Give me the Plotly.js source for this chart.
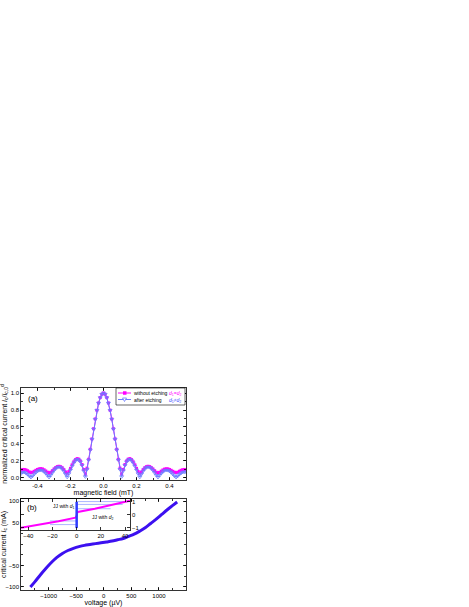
<!DOCTYPE html>
<html><head><meta charset="utf-8">
<script src="https://cdn.plot.ly/plotly-3.0.1.min.js"></script>
<style>body{margin:0;padding:0;background:#fff}</style>
</head><body><div id="chart" style="width:469px;height:607px"></div>
<script>
// ---- panel (a): normalized critical current vs magnetic field ----
const fieldA = [-0.50,-0.49,-0.48,-0.47,-0.46,-0.45,-0.44,-0.43,-0.42,-0.41,-0.40,-0.39,-0.38,-0.37,-0.36,-0.35,-0.34,-0.33,-0.32,-0.31,-0.30,-0.29,-0.28,-0.27,-0.26,-0.25,-0.24,-0.23,-0.22,-0.21,-0.20,-0.19,-0.18,-0.17,-0.16,-0.15,-0.14,-0.13,-0.12,-0.11,-0.10,-0.09,-0.08,-0.07,-0.06,-0.05,-0.04,-0.03,-0.02,-0.01,0.00,0.01,0.02,0.03,0.04,0.05,0.06,0.07,0.08,0.09,0.10,0.11,0.12,0.13,0.14,0.15,0.16,0.17,0.18,0.19,0.20,0.21,0.22,0.23,0.24,0.25,0.26,0.27,0.28,0.29,0.30,0.31,0.32,0.33,0.34,0.35,0.36,0.37,0.38,0.39,0.40,0.41,0.42,0.43,0.44,0.45,0.46,0.47,0.48,0.49,0.50];
const withoutEtching = [0.09,0.10,0.10,0.095,0.085,0.072,0.063,0.068,0.078,0.09,0.10,0.107,0.11,0.106,0.096,0.082,0.068,0.06,0.067,0.085,0.105,0.122,0.134,0.138,0.133,0.12,0.098,0.07,0.055,0.075,0.113,0.155,0.19,0.216,0.228,0.222,0.20,0.158,0.10,0.045,0.115,0.22,0.338,0.46,0.58,0.695,0.798,0.882,0.946,0.985,1.0,0.985,0.946,0.882,0.798,0.695,0.58,0.46,0.338,0.22,0.115,0.045,0.10,0.158,0.20,0.222,0.228,0.216,0.19,0.155,0.113,0.075,0.055,0.07,0.098,0.12,0.133,0.138,0.134,0.122,0.105,0.085,0.067,0.06,0.066,0.08,0.094,0.104,0.108,0.107,0.10,0.09,0.078,0.068,0.063,0.068,0.079,0.09,0.097,0.10,0.10];
const afterEtching = [0.05,0.068,0.067,0.057,0.042,0.023,0.008,0.024,0.046,0.065,0.08,0.09,0.092,0.087,0.074,0.055,0.03,0.008,0.032,0.062,0.089,0.11,0.124,0.129,0.123,0.107,0.08,0.045,0.01,0.05,0.095,0.14,0.178,0.205,0.218,0.213,0.19,0.148,0.085,0.015,0.10,0.21,0.33,0.455,0.575,0.69,0.795,0.88,0.945,0.985,1.0,0.985,0.945,0.88,0.795,0.69,0.575,0.455,0.33,0.21,0.10,0.015,0.085,0.148,0.19,0.213,0.218,0.205,0.178,0.14,0.095,0.05,0.01,0.045,0.08,0.107,0.123,0.129,0.124,0.11,0.089,0.062,0.032,0.008,0.03,0.055,0.074,0.087,0.092,0.09,0.08,0.065,0.046,0.024,0.008,0.023,0.042,0.057,0.067,0.071,0.07];

// ---- panel (b): critical current vs voltage ----
const voltage = [-1330,-1250,-1150,-1050,-950,-850,-750,-650,-550,-450,-350,-250,-150,-50,50,150,250,350,450,550,650,750,850,950,1050,1150,1250,1330];
const current = [-100,-88,-72,-57,-43,-31,-22,-15,-10,-6,-3,-1,1,3,5,7,10,13,18,23,30,38,48,58,69,80,90,98];

// ---- inset ----
const insetMagX = [-46,-30,-15,-1,0,0.5,1,15,30,44];
const insetMagY = [-1.02,-0.78,-0.52,-0.25,-0.1,0.15,0.2,0.45,0.75,1.07];
const insetBlueX = [0,0,0,0];
const insetBlueY = [-1.05,-0.5,0.4,0.98];
const insetStepLevels = [1.0,0.78,0.45,-0.5,-0.78];
const insetStepEnds = [44,38,28,-22,-22];

const tickLabelsA = ['0.0','0.2','0.4','0.6','0.8','1.0'];

const F = '"Liberation Sans", Arial, sans-serif';
const magenta = '#ff00ff';
const blueA = '#6b7bff';

const traces = [
  {x: fieldA, y: withoutEtching, type:'scatter', mode:'lines+markers', xaxis:'x', yaxis:'y',
   line:{color:magenta,width:1}, marker:{symbol:'square',size:3,color:magenta}, showlegend:false},
  {x: fieldA, y: afterEtching, type:'scatter', mode:'lines+markers', xaxis:'x', yaxis:'y',
   line:{color:blueA,width:1}, marker:{symbol:'triangle-down-open',size:3.5,color:blueA,line:{width:0.8}}, showlegend:false},
  {x: voltage, y: current, type:'scatter', mode:'lines', xaxis:'x2', yaxis:'y2',
   line:{color:'#3c10f0',width:3,shape:'spline'}, showlegend:false},
];
for (let i=0;i<insetStepLevels.length;i++){
  traces.push({x:[0, insetStepEnds[i]], y:[insetStepLevels[i], insetStepLevels[i]], type:'scatter', mode:'lines',
    xaxis:'x3', yaxis:'y3', line:{color:'#97a3ff',width:0.8}, showlegend:false});
}
traces.push({x: insetMagX, y: insetMagY, type:'scatter', mode:'lines', xaxis:'x3', yaxis:'y3',
  line:{color:magenta,width:2}, showlegend:false});
traces.push({x: insetBlueX, y: insetBlueY, type:'scatter', mode:'lines', xaxis:'x3', yaxis:'y3',
  line:{color:'#2f3cff',width:2.5}, showlegend:false});

const ax = {showline:true, linecolor:'#000', linewidth:0.8, mirror:'ticks', ticks:'inside', ticklen:3,
  tickwidth:0.8, tickcolor:'#000', showgrid:false, zeroline:false, tickfont:{family:F,size:6,color:'#000'}};

const px = p => (p-21)/165, py = p => (590-p)/202;
const ann = (text, x, y, size, color, xa) => ({text, xref:'paper', yref:'paper', x:px(x), y:py(y), xanchor:xa||'center', yanchor:'middle',
  showarrow:false, font:{family:F, size, color:color||'#000'}});

const layout = {
  width:469, height:607, paper_bgcolor:'#fff', plot_bgcolor:'#fff',
  margin:{l:21, r:283, t:388, b:17}, showlegend:false,
  font:{family:F, size:6, color:'#000'},
  xaxis: Object.assign({}, ax, {domain:[0,1], anchor:'y', range:[-0.5,0.5], tickvals:[-0.4,-0.2,0,0.2,0.4],
    ticktext:['-0.4','-0.2','0.0','0.2','0.4'], minor:{ticks:'inside',ticklen:2,dtick:0.1,tickcolor:'#000'},
    title:{text:'magnetic field (mT)', font:{family:F,size:7}, standoff:2}}),
  yaxis: Object.assign({}, ax, {domain:[0.5446,1], anchor:'x', range:[-0.024,1.059], tickvals:[0,0.2,0.4,0.6,0.8,1.0],
    ticktext:tickLabelsA, minor:{ticks:'inside',ticklen:2,dtick:0.1,tickcolor:'#000'},
    title:{text:'normalized critical current <i>I</i><sub>c</sub>/<i>I</i><sub>c,0</sub><sup>d</sup>', font:{family:F,size:7}, standoff:3}}),
  xaxis2: Object.assign({}, ax, {domain:[0,1], anchor:'y2', range:[-1500,1490], tickvals:[-1000,-500,0,500,1000],
    minor:{ticks:'inside',ticklen:2,dtick:250,tickcolor:'#000'},
    title:{text:'voltage (\u00b5V)', font:{family:F,size:7}, standoff:2}}),
  yaxis2: Object.assign({}, ax, {domain:[0,0.4505], anchor:'x2', range:[-107,105], tickvals:[-100,-50,50,100],
    minor:{ticks:'inside',ticklen:2,dtick:25,tickcolor:'#000'},
    title:{text:'critical current <i>I</i><sub>c</sub> (mA)', font:{family:F,size:7}, standoff:3}}),
  xaxis3: Object.assign({}, ax, {domain:[0,0.66], anchor:'y3', range:[-46,44], tickvals:[-40,-20,0,20,40]}),
  yaxis3: Object.assign({}, ax, {domain:[0.297,0.4505], anchor:'x3', side:'right', range:[-1.2,1.2], tickvals:[-1,0,1]}),
  shapes:[
    {type:'rect', xref:'paper', yref:'paper', x0:px(21), x1:px(130), y0:py(530), y1:py(499),
     fillcolor:'#fff', line:{width:0}, layer:'below'},
    {type:'rect', xref:'paper', yref:'paper', x0:px(116), x1:px(185), y0:py(405), y1:py(388),
     fillcolor:'#fff', line:{color:'#000',width:0.6}},
    {type:'line', xref:'paper', yref:'paper', x0:px(118), x1:px(131), y0:py(393), y1:py(393), line:{color:magenta,width:1}},
    {type:'rect', xref:'paper', yref:'paper', x0:px(123), x1:px(126.5), y0:py(394.75), y1:py(391.25), fillcolor:magenta, line:{width:0}},
    {type:'line', xref:'paper', yref:'paper', x0:px(118), x1:px(131), y0:py(399.5), y1:py(399.5), line:{color:blueA,width:1}},
    {type:'path', xref:'paper', yref:'paper', path:'M '+px(122.5)+' '+py(398)+' L '+px(126.5)+' '+py(398)+' L '+px(124.5)+' '+py(401.5)+' Z',
     fillcolor:'#fff', line:{color:blueA,width:0.8}},
  ],
  annotations:[
    ann('(a)', 33, 398, 8),
    ann('(b)', 32, 507, 8),
    ann('without etching', 132, 393, 5, '#000', 'left'),
    ann('after etching', 132, 399.5, 5, '#000', 'left'),
    ann('<i>d</i><sub>1</sub>=<i>d</i><sub>2</sub>', 167, 393.5, 5, magenta, 'left'),
    ann('<i>d</i><sub>1</sub>\u2260<i>d</i><sub>2</sub>', 167, 400, 5, '#3c4cff', 'left'),
    {text:'JJ with <i>d</i><sub>1</sub>', xref:'x3', yref:'y3', x:-11, y:0.62, xanchor:'center', yanchor:'middle', showarrow:false, font:{family:F,size:5}},
    {text:'JJ with <i>d</i><sub>2</sub>', xref:'x3', yref:'y3', x:21, y:-0.25, xanchor:'center', yanchor:'middle', showarrow:false, font:{family:F,size:5}},
  ]
};
Plotly.newPlot('chart', traces, layout, {displayModeBar:false, staticPlot:true});
</script></body></html>
